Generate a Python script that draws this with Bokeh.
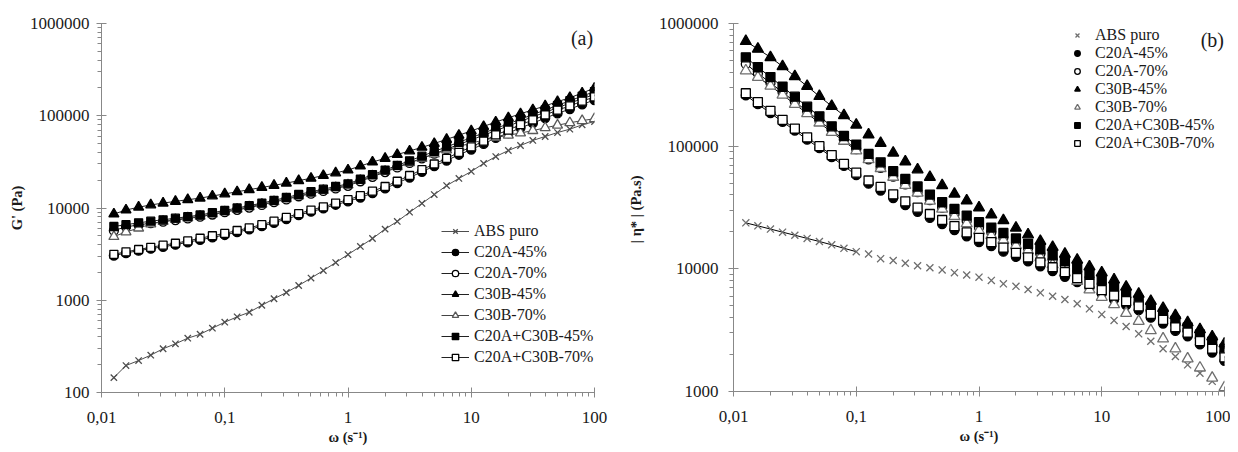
from bokeh.plotting import figure
from bokeh.models import Range1d, FixedTicker, Legend, LegendItem, Label, CustomJSTickFormatter
from bokeh.layouts import row
from bokeh.embed import file_html
from bokeh.resources import INLINE

nan = float("nan")

# angular frequency (s^-1)
omega = [0.0126, 0.0158, 0.0200, 0.0251, 0.0316, 0.0398, 0.0501, 0.0631, 0.0794, 0.100,
         0.126, 0.158, 0.200, 0.251, 0.316, 0.398, 0.501, 0.631, 0.794, 1.00,
         1.26, 1.58, 2.00, 2.51, 3.16, 3.98, 5.01, 6.31, 7.94, 10.0,
         12.6, 15.8, 20.0, 25.1, 31.6, 39.8, 50.1, 63.1, 79.4, 100.0]

series_names = ["ABS puro", "C20A-45%", "C20A-70%", "C30B-45%", "C30B-70%",
                "C20A+C30B-45%", "C20A+C30B-70%"]

# (a) storage modulus G' (Pa)
g_abs = [145, 196, 222, 254, 298, 337, 388, 428, 498, 578,
         661, 741, 883, 1038, 1213, 1445, 1740, 2100, 2560, 3130,
         3830, 4670, 5900, 7150, 9000, 11200, 14000, 17500, 20900, 24900,
         30400, 36100, 42000, 47600, 54000, 59600, 65800, 71500, 79700, 86600]
g_c20a45 = [3050, 3250, 3450, 3620, 3800, 4000, 4250, 4520, 4800, 5100,
            5480, 5870, 6350, 6920, 7600, 8350, 9120, 9900, 10850, 11800,
            13000, 14500, 16300, 18600, 21400, 24700, 28500, 32700, 37800, 43000,
            49500, 57500, 65000, 74000, 83000, 94500, 106000, 118000, 133000, 148000]
g_c20a70 = [5700, 6250, 6550, 6850, 7100, 7400, 7700, 8050, 8500, 9000,
            9550, 10100, 10800, 11600, 12400, 13400, 14300, 15300, 16300, 17400,
            19500, 21800, 24500, 27500, 30800, 34500, 38800, 43500, 48800, 54800,
            61500, 69000, 77500, 87000, 97500, 109000, 122000, 137000, 153000, 170000]
g_c30b45 = [8600, 9500, 10200, 10800, 11300, 11800, 12300, 12800, 13500, 14200,
            15000, 15800, 16700, 17600, 18600, 19800, 21000, 22500, 24000, 25800,
            28500, 31500, 34500, 38000, 41500, 45500, 50000, 55500, 61500, 68500,
            76500, 85500, 95000, 105000, 116000, 128000, 142000, 157000, 176000, 200000]
g_c30b70 = [4900, 5500, 6050, 6700, 7150, 7500, 7800, 8150, 8600, 9100,
            9700, 10300, 11000, 11700, 12600, 13500, 14500, 15500, 16600, 17800,
            19900, 22300, 25000, 28000, 31000, 34500, 38500, 42500, 46500, 50500,
            54500, 58000, 61500, 65000, 69000, 74000, 79000, 84000, 88500, 93000]
g_mix45 = [6300, 6600, 6900, 7200, 7450, 7750, 8050, 8400, 8900, 9400,
           10000, 10600, 11300, 12100, 13000, 14000, 15000, 16000, 17100, 18300,
           20500, 23000, 25800, 29000, 32500, 36500, 41000, 46000, 51600, 57900,
           65000, 72900, 81800, 91800, 103000, 115500, 129600, 145400, 163200, 183000]
g_mix70 = [3150, 3350, 3550, 3750, 3950, 4150, 4400, 4700, 5000, 5300,
           5700, 6100, 6600, 7200, 7900, 8700, 9500, 10300, 11300, 12300,
           13600, 15200, 17100, 19500, 22500, 26000, 30000, 34500, 40000, 46000,
           53000, 62000, 70000, 80000, 90000, 102000, 115000, 128000, 144000, 160000]

# (b) complex viscosity |eta*| (Pa.s)
eta_abs = [23700, 22400, 21100, 19900, 18800, 17700, 16700, 15700, 14700, 13800,
           13200, 12100, 11700, 11100, 10600, 10200, 9800, 9300, 8900, 8550,
           8050, 7550, 7200, 6780, 6370, 5980, 5620, 5190, 4720, 4250,
           3800, 3390, 2950, 2570, 2230, 1930, 1650, 1410, 1210, nan]
eta_c20a45 = [260000, 220000, 186000, 158000, 134000, 113000, 96500, 81500, 69000, 58000,
              49500, 43500, 37800, 33000, 29200, 26000, 23200, 20700, 18400, 16500,
              15300, 13800, 12500, 11500, 10500, 9600, 8600, 7800, 7000, 6250,
              5600, 5050, 4600, 4000, 3580, 3120, 2820, 2420, 2080, 1780]
eta_c20a70 = [468000, 392000, 328000, 275000, 230000, 193000, 161000, 135000, 113000, 94500,
              78000, 66500, 56500, 48800, 42300, 36400, 31500, 27800, 24500, 21700,
              19800, 17900, 16200, 14700, 13200, 11800, 10500, 9400, 8400, 7500,
              6600, 5850, 5150, 4550, 4000, 3520, 3100, 2720, 2380, 2080]
eta_c30b45 = [716000, 620000, 530000, 447000, 370000, 308000, 255000, 212000, 178000, 149000,
              124000, 106000, 88200, 74900, 64400, 55800, 47800, 40800, 36000, 31500,
              27600, 24800, 21600, 19000, 16800, 15000, 13200, 11800, 10400, 9300,
              8140, 7120, 6230, 5450, 4770, 4170, 3650, 3200, 2800, 2450]
eta_c30b70 = [413000, 365000, 310000, 262000, 220000, 185000, 155000, 130000, 110000, 92000,
              78000, 66000, 56000, 48000, 41500, 35800, 30800, 26800, 23400, 20500,
              18700, 17100, 15500, 14100, 12400, 10800, 9300, 7950, 6750, 5880,
              5120, 4350, 3740, 3140, 2690, 2230, 1850, 1560, 1290, 1080]
eta_mix45 = [530000, 440000, 366000, 305000, 253000, 210000, 175000, 145000, 121000, 103000,
             86500, 73900, 62500, 54100, 46900, 40300, 34900, 30800, 27200, 24000,
             21700, 19600, 17700, 16000, 14400, 12900, 11500, 10200, 9100, 8100,
             7150, 6300, 5550, 4900, 4300, 3780, 3330, 2920, 2550, 2230]
eta_mix70 = [270000, 229000, 194000, 164000, 139000, 118000, 100000, 84600, 71700, 60800,
             52500, 46500, 40500, 35500, 31500, 28000, 25000, 22300, 19800, 17900,
             16500, 14900, 13500, 12400, 11300, 10300, 9400, 8400, 7550, 6700,
             6050, 5450, 4950, 4300, 3840, 3340, 3020, 2570, 2230, 1900]

x_ticks = [0.01, 0.1, 1, 10, 100]
y_ticks_a = [100, 1000, 10000, 100000, 1000000]
y_ticks_b = [1000, 10000, 100000, 1000000]

SERIF = "Liberation Serif"
AX = "#888888"

fmt = CustomJSTickFormatter(code="return tick.toString().replace('.', ',');")


def minor(lo_exp, hi_exp):
    return [m * 10.0 ** e for e in range(lo_exp, hi_exp) for m in range(2, 10)]


def style_axes(p, ylabel, ytick_vals, ylo_exp, yhi_exp, ystand, ylab_stand):
    p.xaxis.ticker = FixedTicker(ticks=x_ticks, minor_ticks=minor(-2, 2))
    p.yaxis.ticker = FixedTicker(ticks=ytick_vals, minor_ticks=minor(ylo_exp, yhi_exp))
    for ax in (p.xaxis[0], p.yaxis[0]):
        ax.formatter = fmt
        ax.axis_line_color = AX
        ax.major_tick_line_color = AX
        ax.minor_tick_line_color = AX
        ax.major_tick_in = 5
        ax.major_tick_out = 5
        ax.minor_tick_in = 0
        ax.minor_tick_out = 4
        ax.major_label_text_font = SERIF
        ax.major_label_text_font_size = "17px"
        ax.major_label_text_color = "#1a1a1a"
        ax.axis_label_text_font = SERIF
        ax.axis_label_text_font_style = "bold"
        ax.axis_label_text_font_size = "14.5px"
        ax.axis_label_text_color = "#1a1a1a"
    p.xaxis.axis_label = "ω (s⁻¹)"
    p.xaxis.major_label_standoff = 14
    p.xaxis.axis_label_standoff = 3
    p.yaxis.axis_label = ylabel
    p.yaxis.major_label_standoff = ystand
    p.yaxis.axis_label_standoff = ylab_stand
    p.xgrid.visible = False
    p.ygrid.visible = False
    p.outline_line_color = None
    p.background_fill_color = "white"
    p.border_fill_color = "white"


# ---------- panel (a) ----------
pa = figure(frame_width=493, frame_height=369, x_axis_type="log", y_axis_type="log",
            x_range=Range1d(0.01, 100), y_range=Range1d(100, 1000000),
            output_backend="svg", toolbar_location=None,
            min_border_left=101, min_border_right=26, min_border_top=22, min_border_bottom=61)
style_axes(pa, "G' (Pa)", y_ticks_a, 2, 6, 7, 2)

styles_a = [
    dict(marker="x", size=9, line_color="#4d4d4d", fill_color=None, lc="#4d4d4d"),
    dict(marker="circle", size=9, line_color="black", fill_color="black", lc="#222222"),
    dict(marker="circle", size=9, line_color="black", fill_color="white", lc="#222222"),
    dict(marker="triangle", size=10, line_color="black", fill_color="black", lc="#222222"),
    dict(marker="triangle", size=10, line_color="#595959", fill_color="white", lc="#444444"),
    dict(marker="square", size=8, line_color="black", fill_color="black", lc="#222222"),
    dict(marker="square", size=8, line_color="black", fill_color="white", lc="#222222"),
]
data_a = [g_abs, g_c20a45, g_c20a70, g_c30b45, g_c30b70, g_mix45, g_mix70]

items_a = []
for name, ys, st in zip(series_names, data_a, styles_a):
    ln = pa.line(omega, ys, line_color=st["lc"], line_width=1)
    sc = pa.scatter(omega, ys, marker=st["marker"], size=st["size"],
                    line_color=st["line_color"], fill_color=st["fill_color"], line_width=1.3)
    items_a.append(LegendItem(label=name, renderers=[ln, sc]))

leg_a = Legend(items=items_a, location=(340, 26), glyph_width=28, glyph_height=16,
               label_standoff=5, spacing=3, padding=0, margin=0,
               border_line_color=None, background_fill_alpha=0,
               label_text_font=SERIF, label_text_font_size="16px",
               label_text_color="#1a1a1a")
pa.add_layout(leg_a)
pa.add_layout(Label(x=97.5, y=705000, text="(a)", text_align="right", text_baseline="middle",
                    text_font=SERIF, text_font_size="20px", text_color="#1a1a1a"))

# ---------- panel (b) ----------
pb = figure(frame_width=491, frame_height=368, x_axis_type="log", y_axis_type="log",
            x_range=Range1d(0.01, 100), y_range=Range1d(1000, 1000000),
            output_backend="svg", toolbar_location=None,
            min_border_left=113, min_border_right=6, min_border_top=23, min_border_bottom=61)
style_axes(pb, "| η* |  (Pa.s)", y_ticks_b, 3, 6, 10, 12)

styles_b = [
    dict(marker="x", size=10, line_color="#6e6e6e", fill_color=None),
    dict(marker="circle", size=9, line_color="black", fill_color="black"),
    dict(marker="circle", size=9, line_color="black", fill_color="white"),
    dict(marker="triangle", size=11, line_color="black", fill_color="black"),
    dict(marker="triangle", size=11, line_color="#6e6e6e", fill_color="white"),
    dict(marker="square", size=9, line_color="black", fill_color="black"),
    dict(marker="square", size=9, line_color="black", fill_color="white"),
]
data_b = [eta_abs, eta_c20a45, eta_c20a70, eta_c30b45, eta_c30b70, eta_mix45, eta_mix70]

n_fit = 10  # fitted power-law lines over the first decade
items_b = []
for name, ys, st in zip(series_names, data_b, styles_b):
    pb.line(omega[:n_fit], ys[:n_fit], line_color="black", line_width=1)
    sc = pb.scatter(omega, ys, marker=st["marker"], size=st["size"],
                    line_color=st["line_color"], fill_color=st["fill_color"], line_width=1.3)
    items_b.append(LegendItem(label=name, renderers=[sc]))

leg_b = Legend(items=items_b, location=(336, 239), glyph_width=16, glyph_height=14,
               label_height=14, label_standoff=10, spacing=0, padding=0, margin=0,
               border_line_color=None, background_fill_alpha=0,
               label_text_font=SERIF, label_text_font_size="16px",
               label_text_color="#1a1a1a")
pb.add_layout(leg_b)
pb.add_layout(Label(x=99, y=740000, text="(b)", text_align="right", text_baseline="middle",
                    text_font=SERIF, text_font_size="20px", text_color="#1a1a1a"))

layout = row(pa, pb)
open("out.html", "w").write(file_html(layout, INLINE))
